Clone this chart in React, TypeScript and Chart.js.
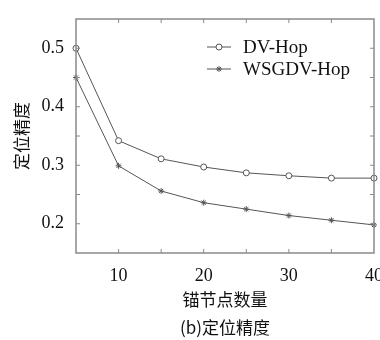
import React, { useEffect, useRef } from "react";
import { Chart, registerables } from "chart.js";

Chart.register(...registerables);

const nodeCounts = [5, 10, 15, 20, 25, 30, 35, 40];
const dvHop = [0.5, 0.342, 0.311, 0.297, 0.287, 0.282, 0.278, 0.278];
const wsgdvHop = [0.45, 0.299, 0.256, 0.236, 0.225, 0.214, 0.206, 0.198];
const seriesNames = ["DV-Hop", "WSGDV-Hop"];
const xTitle = "锚节点数量";
const yTitle = "定位精度";
const caption = "(b)定位精度";

const SERIF = "'Liberation Serif', 'DejaVu Serif', serif";
const CJK = "'Noto Sans CJK SC', sans-serif";
const LINE = "#555";
const FRAME = "#8a8a8a";

const framePlugin = {
  id: "frameTicks",
  afterDraw(chart: any) {
    const { ctx, chartArea: a, scales } = chart;
    const xs = scales.x;
    const ys = scales.y;
    ctx.save();
    ctx.strokeStyle = FRAME;
    ctx.lineWidth = 1.5;
    ctx.strokeRect(a.left, a.top, a.right - a.left, a.bottom - a.top);
    ctx.lineWidth = 1;
    const tl = 4;
    for (let v = 10; v < 40; v += 5) {
      const px = xs.getPixelForValue(v);
      ctx.beginPath();
      ctx.moveTo(px, a.bottom);
      ctx.lineTo(px, a.bottom - tl);
      ctx.moveTo(px, a.top);
      ctx.lineTo(px, a.top + tl);
      ctx.stroke();
    }
    for (let i = 1; i < 8; i++) {
      const v = 0.15 + i * 0.05;
      const py = ys.getPixelForValue(v);
      ctx.beginPath();
      ctx.moveTo(a.left, py);
      ctx.lineTo(a.left + tl, py);
      ctx.moveTo(a.right, py);
      ctx.lineTo(a.right - tl, py);
      ctx.stroke();
    }
    // titles
    ctx.fillStyle = "#111";
    ctx.textAlign = "center";
    ctx.textBaseline = "middle";
    ctx.font = `17px ${CJK}`;
    const cx = (a.left + a.right) / 2;
    ctx.fillText(xTitle, cx, 300);
    ctx.fillText(caption, cx, 328);
    ctx.save();
    ctx.translate(22, (a.top + a.bottom) / 2);
    ctx.rotate(-Math.PI / 2);
    ctx.fillText(yTitle, 0, 0);
    ctx.restore();
    // legend
    const rows = [47, 69];
    rows.forEach((y, i) => {
      ctx.strokeStyle = LINE;
      ctx.lineWidth = 1;
      ctx.beginPath();
      ctx.moveTo(207, y);
      ctx.lineTo(231, y);
      ctx.stroke();
      const mx = 219;
      ctx.beginPath();
      if (i === 0) {
        ctx.fillStyle = "#fff";
        ctx.arc(mx, y, 3, 0, Math.PI * 2);
        ctx.fill();
        ctx.stroke();
      } else {
        const r = 3;
        ctx.moveTo(mx - r, y); ctx.lineTo(mx + r, y);
        ctx.moveTo(mx, y - r); ctx.lineTo(mx, y + r);
        const d = r * 0.707;
        ctx.moveTo(mx - d, y - d); ctx.lineTo(mx + d, y + d);
        ctx.moveTo(mx - d, y + d); ctx.lineTo(mx + d, y - d);
        ctx.stroke();
      }
      ctx.fillStyle = "#111";
      ctx.textAlign = "left";
      ctx.font = `19px ${SERIF}`;
      ctx.fillText(seriesNames[i], 243, y + 1);
    });
    ctx.restore();
  },
};

export default function App() {
  const ref = useRef<HTMLCanvasElement>(null);
  useEffect(() => {
    document.body.style.margin = "0";
    const chart = new Chart(ref.current!, {
      type: "line",
      data: {
        labels: nodeCounts,
        datasets: [
          {
            label: seriesNames[0],
            data: nodeCounts.map((x, i) => ({ x, y: dvHop[i] })),
            borderColor: LINE,
            backgroundColor: "rgba(0,0,0,0)",
            borderWidth: 1,
            pointStyle: "circle",
            pointRadius: 3,
            pointBorderWidth: 1,
            pointBorderColor: LINE,
            pointBackgroundColor: "#fff",
          },
          {
            label: seriesNames[1],
            data: nodeCounts.map((x, i) => ({ x, y: wsgdvHop[i] })),
            borderColor: LINE,
            backgroundColor: "rgba(0,0,0,0)",
            borderWidth: 1,
            pointStyle: "star",
            pointRadius: 3,
            pointBorderWidth: 1,
            pointBorderColor: LINE,
          },
        ],
      },
      options: {
        responsive: false,
        animation: false,
        clip: false,
        layout: { padding: { top: 19, right: 6, left: 0, bottom: 0 } },
        plugins: { legend: { display: false }, tooltip: { enabled: false } },
        scales: {
          x: {
            type: "linear",
            min: 5,
            max: 40,
            afterFit: (s: any) => {
              s.height = 87;
              s.paddingLeft = 0;
              s.paddingRight = 0;
            },
            afterBuildTicks: (s: any) => {
              s.ticks = [10, 20, 30, 40].map((v) => ({ value: v }));
            },
            grid: { display: false, drawTicks: false },
            border: { display: false },
            ticks: {
              padding: 12,
              color: "#111",
              font: { family: SERIF, size: 18 },
              maxRotation: 0,
              callback: (v: any) => String(v),
            },
          },
          y: {
            type: "linear",
            min: 0.15,
            max: 0.55,
            afterFit: (s: any) => {
              s.width = 76;
              s.paddingTop = 0;
              s.paddingBottom = 0;
            },
            afterBuildTicks: (s: any) => {
              s.ticks = [0.2, 0.3, 0.4, 0.5].map((v) => ({ value: v }));
            },
            grid: { display: false, drawTicks: false },
            border: { display: false },
            ticks: {
              padding: 12,
              color: "#111",
              font: { family: SERIF, size: 18 },
              callback: (v: any) => Number(v).toFixed(1),
            },
          },
        },
      },
      plugins: [framePlugin],
    });
    return () => chart.destroy();
  }, []);
  return <canvas ref={ref} width={380} height={340} style={{ display: "block" }} />;
}
